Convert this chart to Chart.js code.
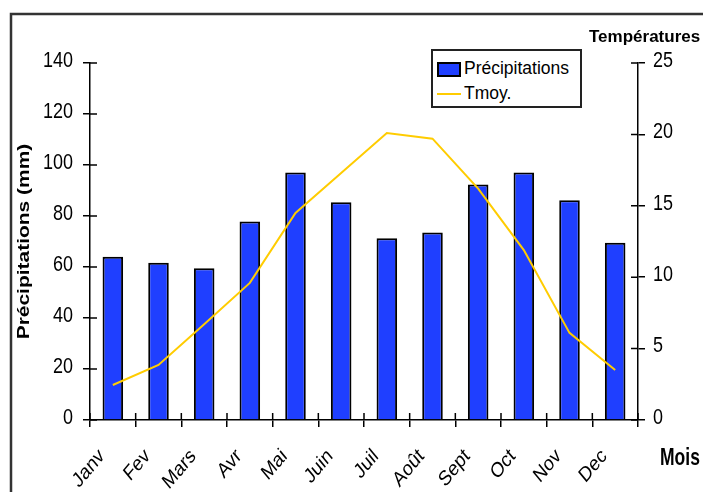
<!DOCTYPE html>
<html>
<head>
<meta charset="utf-8">
<script src="https://cdn.jsdelivr.net/npm/chart.js@4"></script>
<style>
  body { margin: 0; background: #fff; }
  #wrap { position: relative; width: 703px; height: 492px; overflow: hidden; }
  #legend {
    position: absolute; left: 431px; top: 49px; width: 147px; height: 55px;
    border: 2px solid #222; background: #fff;
    font-family: 'Liberation Sans', Arial, sans-serif; font-size: 17.5px; color: #000;
  }
  #legend .item { position: absolute; left: 4px; height: 20px; line-height: 20px; white-space: nowrap; }
  #legend .sw { display: inline-block; vertical-align: middle; width: 24px; margin-right: 3px; }
</style>
</head>
<body>
<div id="wrap">
  <canvas id="chart"></canvas>
  <div id="legend"></div>
</div>
<script>
const months = ['Janv', 'Fev', 'Mars', 'Avr', 'Mai', 'Juin', 'Juil', 'Août', 'Sept', 'Oct', 'Nov', 'Dec'];
const precipitations = [64, 61.7, 59.5, 77.8, 97.1, 85.4, 71.3, 73.5, 92.4, 97.1, 86.2, 69.5];
const tmoy = [2.45, 3.85, 6.7, 9.6, 14.5, 17.3, 20.1, 19.7, 16.2, 11.9, 6.1, 3.5];

const precipTicks = [0, 20, 40, 60, 80, 100, 120, 140];
const tempTicks = [0, 5, 10, 15, 20, 25];

const ARIAL = "'Liberation Sans', Arial, sans-serif";
const TICK = 7;

// the reference text looks stretched vertically, so labels are drawn by hand
function txt(c, s, x, y, o) {
    c.save();
    c.translate(x, y);
    if (o.sy) c.scale(1, o.sy);
    if (o.rot) c.rotate(o.rot);
    if (o.sx) c.scale(o.sx, 1);
    c.font = o.font;
    c.textAlign = o.align || 'left';
    c.textBaseline = o.base || 'alphabetic';
    c.fillStyle = '#000';
    c.fillText(s, 0, 0);
    c.restore();
}

const decorations = {
    id: 'decorations',
    beforeDraw(chart) {
        const c = chart.ctx;
        c.save();
        c.strokeStyle = '#333';
        c.lineWidth = 2.5;
        c.strokeRect(11, 14, 900, 700);
        c.restore();
    },
    afterDraw(chart) {
        const c = chart.ctx;
        const { x, y, y1 } = chart.scales;
        c.save();
        c.strokeStyle = '#000';
        c.lineWidth = 1.5;
        c.beginPath();
        for (let i = 0; i <= months.length; i++) {
            const px = x.getPixelForValue(i - 0.5);
            c.moveTo(px, y.bottom - TICK);
            c.lineTo(px, y.bottom);
        }
        precipTicks.forEach(v => {
            const py = y.getPixelForValue(v);
            c.moveTo(y.right, py);
            c.lineTo(y.right + TICK, py);
        });
        tempTicks.forEach(v => {
            const py = y1.getPixelForValue(v);
            c.moveTo(y1.left - TICK, py);
            c.lineTo(y1.left, py);
        });
        c.stroke();
        c.restore();

        const num = '18px ' + ARIAL;
        precipTicks.forEach(v => {
            txt(c, String(v), y.right - TICK - 10, y.getPixelForValue(v) - 2,
                { font: num, align: 'right', base: 'middle', sy: 1.26 });
        });
        tempTicks.forEach(v => {
            txt(c, String(v), y1.left + TICK + 8, y1.getPixelForValue(v) - 2.5,
                { font: num, align: 'left', base: 'middle', sy: 1.26 });
        });
        months.forEach((m, i) => {
            txt(c, m, x.getPixelForValue(i) - 11, y.bottom + 33,
                { font: '17.5px ' + ARIAL, align: 'right', base: 'middle', sy: 1.2, rot: -Math.PI / 4 });
        });

        txt(c, 'Précipitations (mm)', 25, (y.top + y.bottom) / 2,
            { font: 'bold 16px ' + ARIAL, align: 'center', base: 'middle', rot: -Math.PI / 2, sx: 1.31 });
        txt(c, 'Températures', 589, 42, { font: 'bold 17px ' + ARIAL });
        txt(c, 'Mois', 660, 465, { font: 'bold 17.5px ' + ARIAL, sy: 1.36 });
    }
};

const chart = new Chart(document.getElementById('chart'), {
    data: {
        labels: months,
        datasets: [
            {
                type: 'line',
                label: 'Tmoy.',
                data: tmoy,
                yAxisID: 'y1',
                borderColor: '#FFCC00',
                borderWidth: 2,
                pointRadius: 0,
                tension: 0,
                order: 0
            },
            {
                type: 'bar',
                label: 'Précipitations',
                data: precipitations,
                yAxisID: 'y',
                backgroundColor: '#1F3FFF',
                borderColor: '#000',
                borderWidth: 2,
                categoryPercentage: 1,
                barPercentage: 0.45,
                order: 1
            }
        ]
    },
    options: {
        responsive: true,
        maintainAspectRatio: false,
        animation: false,
        layout: { padding: { top: 63, left: 0, right: 0, bottom: 0 } },
        plugins: {
            legend: { display: false },
            tooltip: { enabled: false }
        },
        scales: {
            x: {
                offset: true,
                afterFit: s => { s.height = 72; },
                grid: { drawOnChartArea: false, offset: true, color: '#000', lineWidth: 1.5, tickLength: TICK },
                border: { color: '#000', width: 1.5 },
                ticks: { display: false, autoSkip: false }
            },
            y: {
                position: 'left',
                min: 0, max: 140,
                afterFit: s => { s.width = 90; },
                afterBuildTicks: s => { s.ticks = precipTicks.map(v => ({ value: v })); },
                grid: { drawOnChartArea: false, color: '#000', lineWidth: 1.5, tickLength: TICK },
                border: { color: '#000', width: 1.5 },
                ticks: { display: false }
            },
            y1: {
                position: 'right',
                min: 0, max: 25,
                afterFit: s => { s.width = 65; },
                afterBuildTicks: s => { s.ticks = tempTicks.map(v => ({ value: v })); },
                grid: { drawOnChartArea: false, color: '#000', lineWidth: 1.5, tickLength: TICK },
                border: { color: '#000', width: 1.5 },
                ticks: { display: false }
            }
        }
    },
    plugins: [decorations]
});

// legend box built from the datasets
const legend = document.getElementById('legend');
const items = [chart.data.datasets[1], chart.data.datasets[0]];
items.forEach((ds, i) => {
    const row = document.createElement('div');
    row.className = 'item';
    row.style.top = (i === 0 ? 7 : 32) + 'px';
    const sw = document.createElement('span');
    sw.className = 'sw';
    if (ds.type === 'bar') {
        sw.style.height = '11px';
        sw.style.background = ds.backgroundColor;
        sw.style.border = '2px solid #000';
        sw.style.width = '20px';
    } else {
        sw.style.height = '0';
        sw.style.borderTop = '2px solid ' + ds.borderColor;
    }
    row.appendChild(sw);
    row.appendChild(document.createTextNode(ds.label));
    legend.appendChild(row);
});
</script>
</body>
</html>
